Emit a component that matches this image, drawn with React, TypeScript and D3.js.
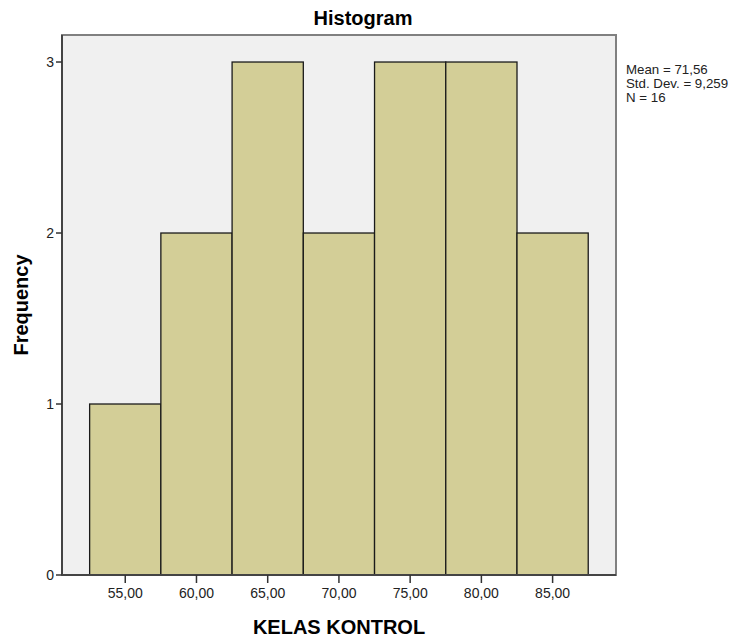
import React from "react";
import * as d3 from "d3";

const binCenters = [55, 60, 65, 70, 75, 80, 85];
const frequencies = [1, 2, 3, 2, 3, 3, 2];
const binWidth = 5;
const xTicks = [55, 60, 65, 70, 75, 80, 85];
const yTicks = [0, 1, 2, 3];
const statsLines = ["Mean = 71,56", "Std. Dev. = 9,259", "N = 16"];
const title = "Histogram";
const xTitle = "KELAS KONTROL";
const yTitle = "Frequency";

const W = 739;
const H = 639;
const plot = { left: 62, right: 616, top: 35, bottom: 575 };
const FONT = "'Liberation Sans', Arial, sans-serif";

export default function App() {
  const x = d3.scaleLinear().domain([50.56, 89.45]).range([plot.left, plot.right]);
  const y = d3.scaleLinear().domain([0, 3.158]).range([plot.bottom, plot.top]);
  const fmt = (v: number) => v.toFixed(2).replace(".", ",");
  const cx = (plot.left + plot.right) / 2;
  const cy = (plot.top + plot.bottom) / 2;
  return (
    <svg
      width={W}
      height={H}
      style={{ position: "fixed", left: 0, top: 0, background: "#fff" }}
      fontFamily={FONT}
    >
      <rect x={0} y={0} width={W} height={H} fill="#fff" />
      <text x={363} y={25} textAnchor="middle" fontSize={20} fontWeight="bold" fill="#000">
        {title}
      </text>
      <rect
        x={plot.left}
        y={plot.top}
        width={plot.right - plot.left}
        height={plot.bottom - plot.top}
        fill="#f0f0f0"
        stroke="#808080"
        strokeWidth={2}
      />
      {binCenters.map((c, i) => (
        <rect
          key={c}
          x={x(c - binWidth / 2)}
          y={y(frequencies[i])}
          width={x(c + binWidth / 2) - x(c - binWidth / 2)}
          height={y(0) - y(frequencies[i])}
          fill="#d3ce97"
          stroke="#1a1a1a"
          strokeWidth={1.3}
        />
      ))}
      <line x1={plot.left} x2={plot.left} y1={plot.top} y2={plot.bottom} stroke="#444" strokeWidth={2} />
      <line x1={plot.left} x2={plot.right} y1={plot.bottom} y2={plot.bottom} stroke="#444" strokeWidth={2} />
      {xTicks.map((t) => (
        <g key={t} transform={`translate(${x(t)},${plot.bottom})`}>
          <line y1={0} y2={8} stroke="#333" strokeWidth={1.5} />
          <text y={23} textAnchor="middle" fontSize={14} fill="#222">
            {fmt(t)}
          </text>
        </g>
      ))}
      {yTicks.map((t) => (
        <g key={t} transform={`translate(${plot.left},${y(t)})`}>
          <line x1={-6} x2={0} stroke="#333" strokeWidth={1.5} />
          <text x={-8} dy="0.35em" textAnchor="end" fontSize={14} fill="#222">
            {t}
          </text>
        </g>
      ))}
      {statsLines.map((s, i) => (
        <text key={s} x={626} y={74 + i * 14} fontSize={13.3} fill="#222">
          {s}
        </text>
      ))}
      <text x={cx} y={634} textAnchor="middle" fontSize={20} fontWeight="bold" fill="#000">
        {xTitle}
      </text>
      <text
        transform={`translate(28,${cy}) rotate(-90)`}
        textAnchor="middle"
        fontSize={20}
        fontWeight="bold"
        fill="#000"
      >
        {yTitle}
      </text>
    </svg>
  );
}
